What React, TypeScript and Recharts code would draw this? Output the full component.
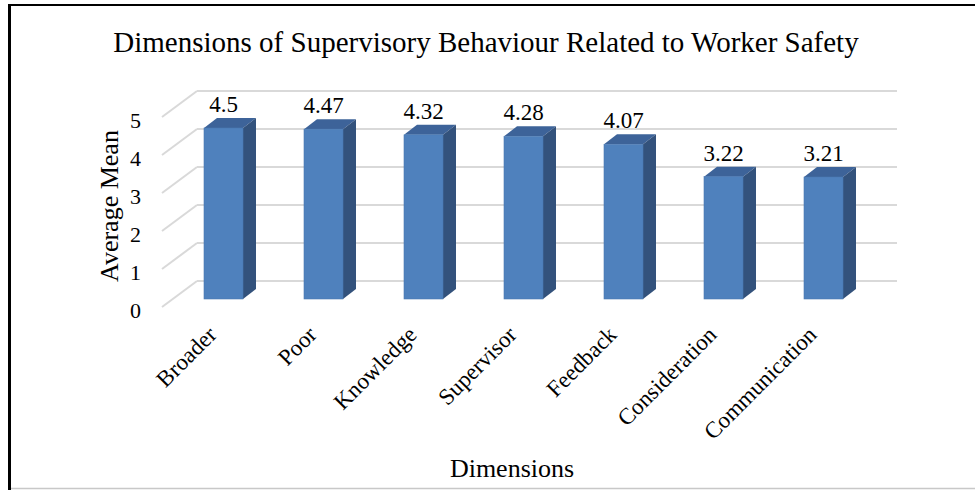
import { BarChart, Bar, XAxis, YAxis, CartesianGrid, LabelList } from 'recharts'

const categories = [
  'Broader',
  'Poor',
  'Knowledge',
  'Supervisor',
  'Feedback',
  'Consideration',
  'Communication',
]
const means = [4.5, 4.47, 4.32, 4.28, 4.07, 3.22, 3.21]
const yTicks = [0, 1, 2, 3, 4, 5]

const W = 975
const H = 490
const PLOT_LEFT = 173
const PLOT_RIGHT = 873
const PLOT_TOP = 109
const PLOT_BOTTOM = 299
const Y_AXIS_W = 60
const X_AXIS_H = 30

// 3d look: wall behind the bars, floor edge in front of them
const WALL_DX = 24
const WALL_DY = -18
const FRONT_DX = -11
const FRONT_DY = 8
const DEPTH_X = 13
const DEPTH_Y = 10

const FONT = '"Liberation Serif", "Times New Roman", serif'
const GRID = '#d9d9d9'

const data = categories.map((name, i) => ({ name, mean: means[i] }))

function Bar3D(props: any) {
  const { x, y, width, height } = props
  if (width == null || height == null) return null
  const r = x + width
  const b = y + height
  return (
    <g>
      <polygon
        points={`${x},${y} ${x + DEPTH_X},${y - DEPTH_Y} ${r + DEPTH_X},${y - DEPTH_Y} ${r},${y}`}
        fill="#3d6399"
      />
      <polygon
        points={`${r},${y} ${r + DEPTH_X},${y - DEPTH_Y} ${r + DEPTH_X},${b - DEPTH_Y} ${r},${b}`}
        fill="#33527c"
      />
      <rect x={x} y={y} width={width} height={height} fill="#4f81bd" stroke="#4a79b2" strokeWidth={0.6} />
    </g>
  )
}

function YTick(props: any) {
  const { y, payload } = props
  return (
    <g>
      <line
        x1={PLOT_LEFT + FRONT_DX}
        y1={y + FRONT_DY}
        x2={PLOT_LEFT + WALL_DX}
        y2={y + WALL_DY}
        stroke={GRID}
        strokeWidth={2}
      />
      <text
        x={141}
        y={y + 11}
        dy="0.35em"
        textAnchor="end"
        fontFamily={FONT}
        fontSize={22}
        fill="#000"
      >
        {payload.value}
      </text>
    </g>
  )
}

function XTick(props: any) {
  const { x, payload } = props
  const tx = x - 5
  const ty = PLOT_BOTTOM + 37
  return (
    <text
      x={tx}
      y={ty}
      transform={`rotate(-45, ${tx}, ${ty})`}
      textAnchor="end"
      fontFamily={FONT}
      fontSize={23}
      fill="#000"
    >
      {payload.value}
    </text>
  )
}

function wallLine(p: any) {
  return (
    <line
      key={p.key ?? `wall-${p.index}`}
      x1={p.x1 + WALL_DX}
      x2={p.x2 + WALL_DX}
      y1={p.y1 + WALL_DY}
      y2={p.y2 + WALL_DY}
      stroke={GRID}
      strokeWidth={2}
    />
  )
}

export default function App() {
  return (
    <div style={{ position: 'absolute', left: 0, top: 0, width: W, height: H, background: '#fff' }}>
      <BarChart
        width={W}
        height={H}
        data={data}
        margin={{
          top: PLOT_TOP,
          right: W - PLOT_RIGHT,
          left: PLOT_LEFT - Y_AXIS_W,
          bottom: H - PLOT_BOTTOM - X_AXIS_H,
        }}
      >
        <CartesianGrid vertical={false} horizontal={wallLine} />
        <XAxis
          dataKey="name"
          height={X_AXIS_H}
          axisLine={false}
          tickLine={false}
          interval={0}
          tick={<XTick />}
        />
        <YAxis
          width={Y_AXIS_W}
          domain={[0, 5]}
          ticks={yTicks}
          axisLine={false}
          tickLine={false}
          tick={<YTick />}
        />
        <Bar dataKey="mean" barSize={39} shape={<Bar3D />} isAnimationActive={false}>
          <LabelList
            dataKey="mean"
            content={(p: any) => (
              <text
                x={p.x + p.width / 2}
                y={p.y - 16}
                textAnchor="middle"
                fontFamily={FONT}
                fontSize={23}
                fill="#000"
              >
                {p.value}
              </text>
            )}
          />
        </Bar>
      </BarChart>

      <svg
        width={W}
        height={H}
        style={{ position: 'absolute', left: 0, top: 0, pointerEvents: 'none' }}
      >
        <line x1={8} y1={5} x2={W} y2={5} stroke="#000" strokeWidth={2} />
        <line x1={9.5} y1={4} x2={9.5} y2={H} stroke="#000" strokeWidth={3} />
        <line x1={11} y1={488.5} x2={W} y2={488.5} stroke="#c8c8c8" strokeWidth={1.5} />
        <text x={486} y={52} textAnchor="middle" fontFamily={FONT} fontSize={29} fill="#000">
          Dimensions of Supervisory Behaviour Related to Worker Safety
        </text>
        <text
          x={118}
          y={206}
          transform="rotate(-90, 118, 206)"
          textAnchor="middle"
          fontFamily={FONT}
          fontSize={26}
          fill="#000"
        >
          Average Mean
        </text>
        <text x={512} y={477} textAnchor="middle" fontFamily={FONT} fontSize={26} fill="#000">
          Dimensions
        </text>
      </svg>
    </div>
  )
}
